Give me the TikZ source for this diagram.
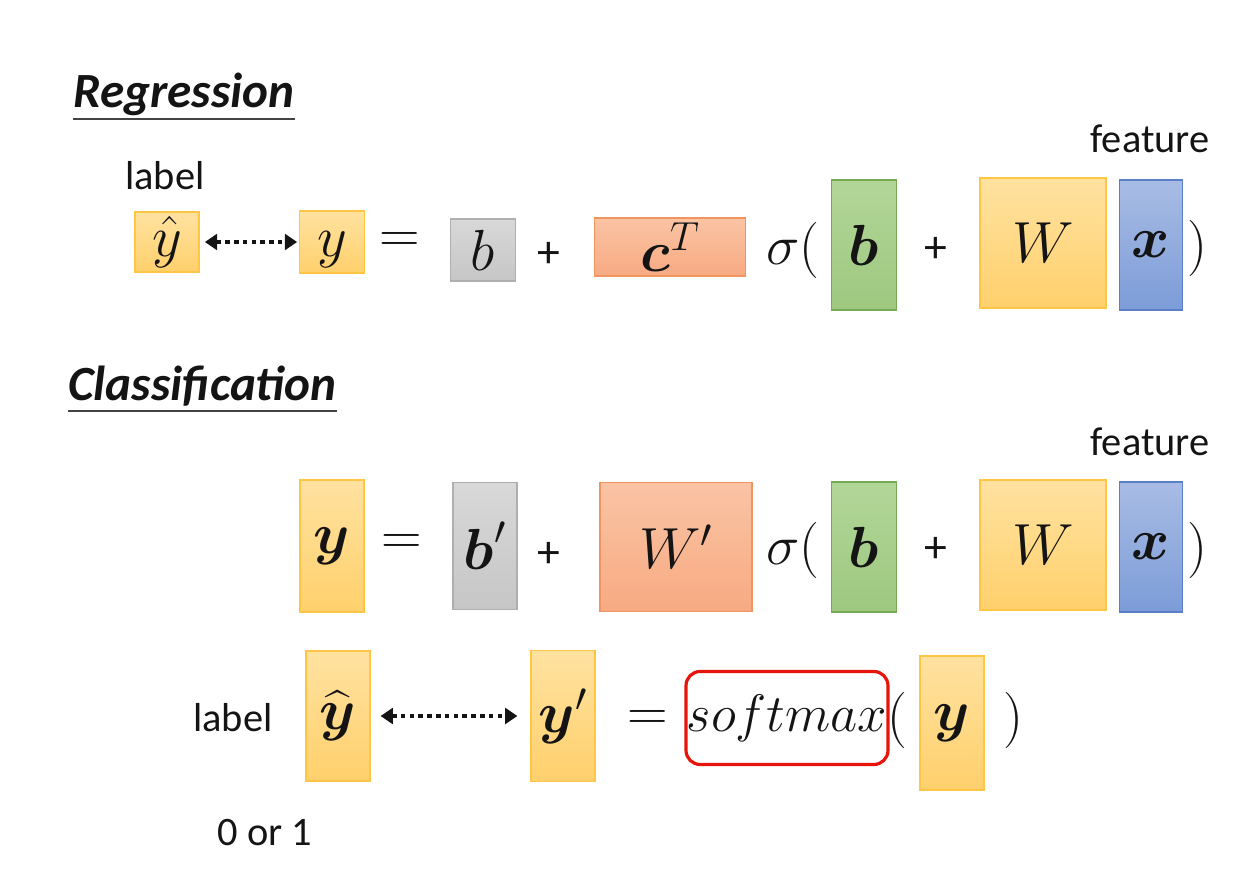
\RequirePackage{fix-cm}
\documentclass[tikz,border=0pt]{standalone}
\usepackage{amsmath}
\usepackage{fontspec}
\setmainfont{Carlito}
\usetikzlibrary{arrows.meta,positioning}
\definecolor{YelTop}{RGB}{255,226,160}
\definecolor{YelBot}{RGB}{255,208,108}
\definecolor{YelLine}{RGB}{255,198,70}
\definecolor{GrayTop}{RGB}{216,216,216}
\definecolor{GrayBot}{RGB}{198,198,198}
\definecolor{GrayLine}{RGB}{175,175,175}
\definecolor{OrTop}{RGB}{250,196,164}
\definecolor{OrBot}{RGB}{247,170,130}
\definecolor{OrLine}{RGB}{240,148,98}
\definecolor{GrTop}{RGB}{178,214,152}
\definecolor{GrBot}{RGB}{158,200,128}
\definecolor{GrLine}{RGB}{116,170,82}
\definecolor{BlTop}{RGB}{168,188,228}
\definecolor{BlBot}{RGB}{124,156,216}
\definecolor{BlLine}{RGB}{90,126,200}
\definecolor{SoftRed}{RGB}{230,20,10}
\definecolor{Ink}{RGB}{20,20,20}
\tikzset{
  vnode/.style={rectangle,inner sep=0pt,line width=0.7pt,text=Ink,
                font=\fontsize{33}{35}\selectfont},
  vyel/.style={vnode,draw=YelLine,top color=YelTop,bottom color=YelBot},
  vgray/.style={vnode,draw=GrayLine,top color=GrayTop,bottom color=GrayBot},
  vor/.style={vnode,draw=OrLine,top color=OrTop,bottom color=OrBot},
  vgreen/.style={vnode,draw=GrLine,top color=GrTop,bottom color=GrBot},
  vblue/.style={vnode,draw=BlLine,top color=BlTop,bottom color=BlBot},
  vsym/.style={inner sep=0pt,text=Ink,font=\fontsize{32}{34}\selectfont},
  vplus/.style={inner sep=0pt,text=Ink,font=\fontsize{26}{28}\selectfont},
  vtext/.style={inner sep=0pt,text=Ink,font=\fontsize{23}{25}\selectfont,anchor=base},
  vtitle/.style={inner sep=0pt,text=Ink,font=\fontsize{28}{30}\selectfont\bfseries\itshape,
                 anchor=base west},
  vsoft/.style={rectangle,draw=SoftRed,line width=1.8pt,rounded corners=8pt,inner sep=0pt,
                minimum width=4.04cm,minimum height=1.86cm,text=Ink,
                font=\fontsize{30}{32}\selectfont},
  vedge/.style={{Triangle[length=7pt,width=9pt]}-{Triangle[length=7pt,width=9pt]},
                Ink,line width=2pt,dash pattern=on 2.6pt off 2.4pt},
  vline/.style={line width=1.1pt,draw=Ink!80},
}
\begin{document}
\begin{tikzpicture}[x=0.02cm,y=-0.02cm]
  \useasboundingbox (0,0) rectangle (1251,885);
  \node[vtitle] (reg) at (73,108) {Regression};
  \draw[vline] ([yshift=-6pt]reg.base west) -- ([yshift=-6pt]reg.base east);
  \node[vtext] (lab1) at (165,190) {label};
  \node[vtext] (feat1) at (1150,153) {feature};
  \node[vyel,minimum width=1.28cm,minimum height=1.2cm] (yhat1) at (167,242) {$\hat{y}$};
  \node[vyel,minimum width=1.3cm,minimum height=1.24cm] (y1) at (332,242) {$y\vphantom{b}$};
  \node[vsym] (eq1) at (400,243) {$=$};
  \node[vgray,minimum width=1.3cm,minimum height=1.24cm] (b1) at (483,250) {$b$};
  \node[vplus] (pl1) at (549,255) {+};
  \node[vor,minimum width=3.02cm,minimum height=1.16cm] (ct) at (670,247) {$\boldsymbol{c}^T$};
  \node[vsym] (sig1) at (793,250) {$\sigma($};
  \node[vgreen,minimum width=1.3cm,minimum height=2.6cm] (bb1) at (864,245) {$\boldsymbol{b}$};
  \node[vplus] (pl2) at (936,250) {+};
  \node[vyel,minimum width=2.52cm,minimum height=2.6cm] (w1) at (1043,243) {$W$};
  \node[vblue,minimum width=1.26cm,minimum height=2.6cm] (x1) at (1151,245) {$\boldsymbol{x}$};
  \node[vsym] (rp1) at (1197,248) {$)$};
  \draw[vedge,shorten <=3pt,shorten >=1pt] (yhat1) -- (y1);

  \node[vtitle] (cls) at (68,400) {Classification};
  \draw[vline] ([yshift=-6pt]cls.base west) -- ([yshift=-6pt]cls.base east);
  \node[vtext] (feat2) at (1150,455) {feature};
  \node[vyel,minimum width=1.28cm,minimum height=2.64cm] (y2) at (332,546) {$\boldsymbol{y}$};
  \node[vsym] (eq2) at (402,545) {$=$};
  \node[vgray,minimum width=1.28cm,minimum height=2.54cm] (b2) at (485,546) {$\boldsymbol{b}'$};
  \node[vplus] (pl3) at (549,555) {+};
  \node[vor,minimum width=3.04cm,minimum height=2.58cm] (w2) at (676,547) {$W'$};
  \node[vsym] (sig2) at (793,550) {$\sigma($};
  \node[vgreen,minimum width=1.3cm,minimum height=2.6cm] (bb2) at (864,547) {$\boldsymbol{b}$};
  \node[vplus] (pl4) at (936,550) {+};
  \node[vyel,minimum width=2.52cm,minimum height=2.6cm] (w3) at (1043,545) {$W$};
  \node[vblue,minimum width=1.26cm,minimum height=2.6cm] (x2) at (1151,547) {$\boldsymbol{x}$};
  \node[vsym] (rp2) at (1197,550) {$)$};

  \node[vtext] (lab2) at (233,731) {label};
  \node[vyel,minimum width=1.28cm,minimum height=2.6cm] (yhat2) at (338,716) {$\widehat{\boldsymbol{y}}$};
  \node[vyel,minimum width=1.28cm,minimum height=2.62cm] (y3) at (563,716) {$\boldsymbol{y}'$};
  \node[vsym] (eq3) at (648,720) {$=$};
  \node[vsoft] (soft) at (787,718) {$softmax$};
  \node[vsym] (lp3) at (897,720) {$($};
  \node[vyel,minimum width=1.28cm,minimum height=2.68cm] (y4) at (952,723) {$\boldsymbol{y}$};
  \node[vsym] (rp3) at (1013,720) {$)$};
  \node[vtext] (zero) at (265,845) {0 or 1};
  \draw[vedge,shorten <=0.2cm,shorten >=0.26cm] (yhat2) -- (y3);
\end{tikzpicture}
\end{document}
